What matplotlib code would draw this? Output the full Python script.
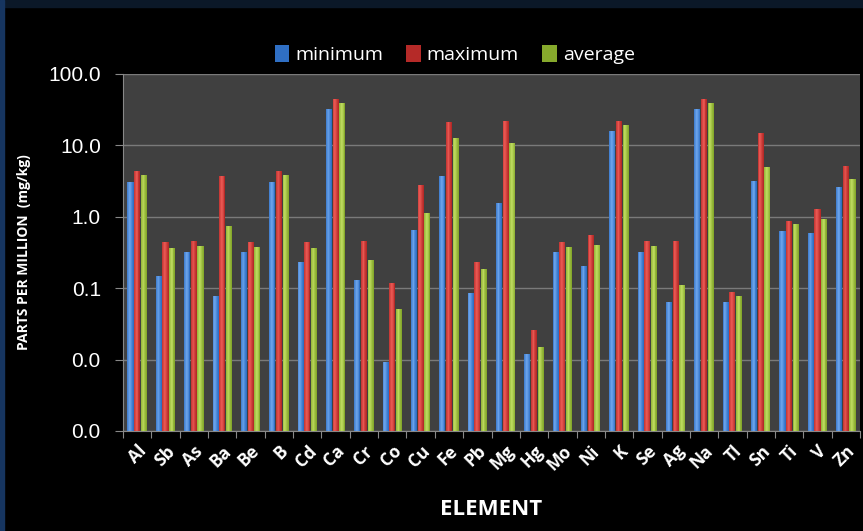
import numpy as np
import matplotlib.pyplot as plt
from matplotlib.patches import Rectangle
from matplotlib.ticker import FixedLocator, FixedFormatter
from matplotlib.colors import to_rgb

# element concentrations, ppm (mg/kg)
elements = ['Al', 'Sb', 'As', 'Ba', 'Be', 'B', 'Cd', 'Ca', 'Cr', 'Co', 'Cu', 'Fe', 'Pb',
            'Mg', 'Hg', 'Mo', 'Ni', 'K', 'Se', 'Ag', 'Na', 'Tl', 'Sn', 'Ti', 'V', 'Zn']
minimum = [3.1, 0.146, 0.317, 0.078, 0.317, 3.1, 0.234, 32, 0.128, 0.0084, 0.644, 3.68, 0.084,
           1.57, 0.0108, 0.317, 0.206, 15.9, 0.317, 0.063, 32, 0.063, 3.13, 0.637, 0.597, 2.58]
maximum = [4.4, 0.44, 0.46, 3.68, 0.44, 4.4, 0.44, 45, 0.46, 0.119, 2.75, 21, 0.234,
           21.9, 0.0253, 0.44, 0.548, 21.9, 0.46, 0.46, 45, 0.087, 15.1, 0.879, 1.29, 5.08]
average = [3.84, 0.364, 0.39, 0.74, 0.38, 3.84, 0.37, 38.8, 0.247, 0.050, 1.14, 12.8, 0.183,
           10.7, 0.014, 0.38, 0.397, 19.3, 0.39, 0.110, 38.8, 0.0757, 5.02, 0.78, 0.93, 3.34]

series = [('minimum', minimum, '#2f6fc4', '#6ea6ec'),
          ('maximum', maximum, '#b52a28', '#ec5a55'),
          ('average', average, '#86a92c', '#c0dc60')]

fig = plt.figure(figsize=(8.63, 5.31), dpi=100, facecolor='black')
# dark navy frame on top and left
fig.add_artist(Rectangle((0, 1 - 7/531), 1, 7/531, transform=fig.transFigure,
                         color='#0b1828', zorder=0))
fig.add_artist(Rectangle((0, 0), 4/863, 1, transform=fig.transFigure,
                         color='#163560', zorder=0))

ax = fig.add_axes([123/863, 1 - 431/531, 737/863, 357/531])
ax.set_facecolor('#404040')
ax.set_yscale('log')
ax.set_ylim(0.001, 100)
ax.set_xlim(0, len(elements))

x = np.arange(len(elements))
bw = 0.235
nstrip = 7
for i, (name, vals, dark, light) in enumerate(series):
    d = np.array(to_rgb(dark))
    l = np.array(to_rgb(light))
    left = x + 0.5 - 1.5*bw + i*bw + 0.01
    w = bw - 0.02
    for k in range(nstrip):
        t = 1 - abs((k + 0.5)/nstrip - 0.4)*2
        c = d + (l - d)*max(t, 0)
        ax.bar(left + k*w/nstrip, vals, width=w/nstrip, bottom=0.001, align='edge',
               color=c, linewidth=0, zorder=3)
    ax.bar([0], [0], color=dark, label=name)

yt = [0.001, 0.01, 0.1, 1, 10, 100]
ax.yaxis.set_major_locator(FixedLocator(yt))
ax.yaxis.set_major_formatter(FixedFormatter(['%.1f' % v for v in yt]))
ax.yaxis.set_minor_locator(FixedLocator([]))
ax.grid(axis='y', color='#7a7a7a', linewidth=1, zorder=1)

ax.set_xticks(np.arange(len(elements) + 1), minor=False)
ax.set_xticklabels([])
ax.set_xticks(x + 0.5, minor=True)
ax.set_xticklabels(elements, minor=True, rotation=45, ha='right', rotation_mode='anchor',
                   fontsize=12.5, fontweight='bold', color='white', family='Open Sans')
ax.tick_params(axis='x', which='minor', length=0, pad=8)
ax.tick_params(axis='x', which='major', length=5, color='#888888', direction='out')
ax.tick_params(axis='y', length=6, color='#888888', labelcolor='white', labelsize=15, pad=10)
for t in ax.get_yticklabels():
    t.set_family('Liberation Sans')

for s in ['top', 'right']:
    ax.spines[s].set_visible(False)
for s in ['left', 'bottom']:
    ax.spines[s].set_color('#888888')

ax.set_xlabel('ELEMENT', fontsize=16, fontweight='bold', color='white', family='Open Sans',
              labelpad=18)
ax.set_ylabel('PARTS PER MILLION  (mg/kg)', fontsize=10, fontweight='bold', color='white',
              family='Open Sans', labelpad=12)

leg = ax.legend(loc='center', bbox_to_anchor=(0.45, 1.055), ncol=3, frameon=False,
                handlelength=0.75, handleheight=1.0, handletextpad=0.3, columnspacing=1.2,
                prop={'family': 'Open Sans', 'size': 14})
for t in leg.get_texts():
    t.set_color('white')

plt.savefig('out.png', facecolor=fig.get_facecolor())
